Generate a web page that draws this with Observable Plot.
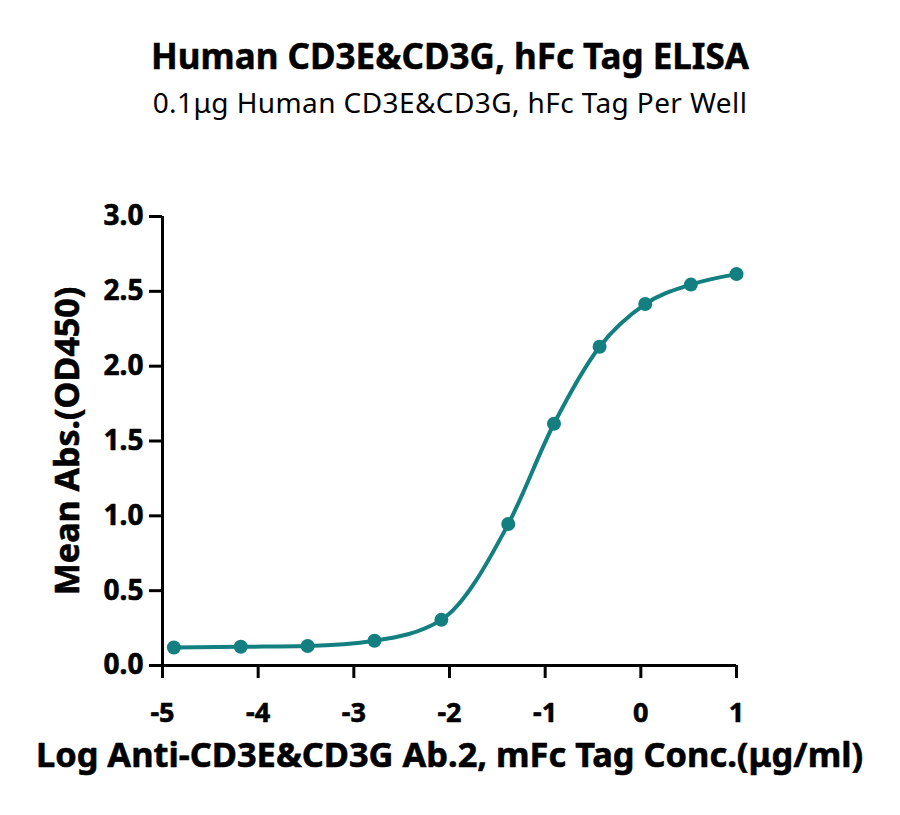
<!DOCTYPE html>
<html>
<head>
<meta charset="utf-8">
<script src="https://cdn.jsdelivr.net/npm/d3@7"></script>
<script src="https://cdn.jsdelivr.net/npm/@observablehq/plot@0.6"></script>
<style>
  body { margin: 0; background: #fff; font-family: "Noto Sans", sans-serif; }
  #wrap { width: 900px; height: 815px; position: relative; }
  .title { position: absolute; left: 0; width: 900px; text-align: center; top: 36px; font-size: 35px; font-weight: 700; color: #000; line-height: 40px; white-space: nowrap; -webkit-text-stroke: 0.5px #000; }
  .subtitle { position: absolute; left: 0; width: 900px; text-align: center; top: 86px; font-size: 28px; font-weight: 400; color: #000; line-height: 32px; letter-spacing: 0.4px; white-space: nowrap; }
  #chart { position: absolute; left: 0; top: 130px; }
</style>
</head>
<body>
<div id="wrap">
  <div class="title">Human CD3E&amp;CD3G, hFc Tag ELISA</div>
  <div class="subtitle">0.1μg Human CD3E&amp;CD3G, hFc Tag Per Well</div>
  <div id="chart"></div>
</div>
<script>
const logConc = [-4.881, -4.182, -3.483, -2.784, -2.085, -1.386, -0.908, -0.431, 0.046, 0.523, 1.0];
const meanAbs = [0.120, 0.125, 0.130, 0.165, 0.305, 0.945, 1.615, 2.130, 2.415, 2.545, 2.615];
const xTicks = [-5, -4, -3, -2, -1, 0, 1];
const yTicks = [0, 0.5, 1.0, 1.5, 2.0, 2.5, 3.0];
const xTickLabels = ["-5", "-4", "-3", "-2", "-1", "0", "1"];
const yTickLabels = ["0.0", "0.5", "1.0", "1.5", "2.0", "2.5", "3.0"];
const xLabel = "Log Anti-CD3E&CD3G Ab.2, mFc Tag Conc.(μg/ml)";
const yLabel = "Mean Abs.(OD450)";

const data = logConc.map((x, i) => ({x, y: meanAbs[i]}));
const teal = "#137f80";
const heavy = {fontWeight: "bold", fill: "#000", stroke: "#000", strokeWidth: 0.6};

const plot = Plot.plot({
  width: 900,
  height: 685,
  marginLeft: 162,
  marginRight: 164,
  marginTop: 86,
  marginBottom: 150,
  style: { fontFamily: "Noto Sans, sans-serif", background: "transparent", overflow: "visible" },
  x: { domain: [-5, 1] },
  y: { domain: [0, 3] },
  marks: [
    Plot.axisY({ticks: yTicks, tickFormat: () => "", tickSize: 13, strokeWidth: 3, stroke: "#000", label: null}),
    Plot.axisX({ticks: xTicks, tickFormat: () => "", tickSize: 13, strokeWidth: 3, stroke: "#000", label: null}),
    Plot.text(yTicks, {x: -5, y: d => d, text: (d, i) => yTickLabels[i], textAnchor: "end", dx: -19, fontSize: 28, ...heavy}),
    Plot.text(xTicks, {x: d => d, y: 0, text: (d, i) => xTickLabels[i], lineAnchor: "top", dy: 37, fontSize: 27, ...heavy}),
    Plot.ruleX([-5], {y1: 0, y2: 3, stroke: "#000", strokeWidth: 3}),
    Plot.ruleY([0], {x1: -5, x2: 1, stroke: "#000", strokeWidth: 3}),
    Plot.line(data, {x: "x", y: "y", stroke: teal, strokeWidth: 4, curve: "monotone-x"}),
    Plot.dot(data, {x: "x", y: "y", fill: teal, r: 7}),
    Plot.text([xLabel], {frameAnchor: "bottom", textAnchor: "middle", dy: 101, fontSize: 34.4, ...heavy}),
    Plot.text([yLabel], {frameAnchor: "left", textAnchor: "middle", dx: -94, rotate: -90, fontSize: 34, ...heavy})
  ]
});
document.getElementById("chart").appendChild(plot);
</script>
</body>
</html>
